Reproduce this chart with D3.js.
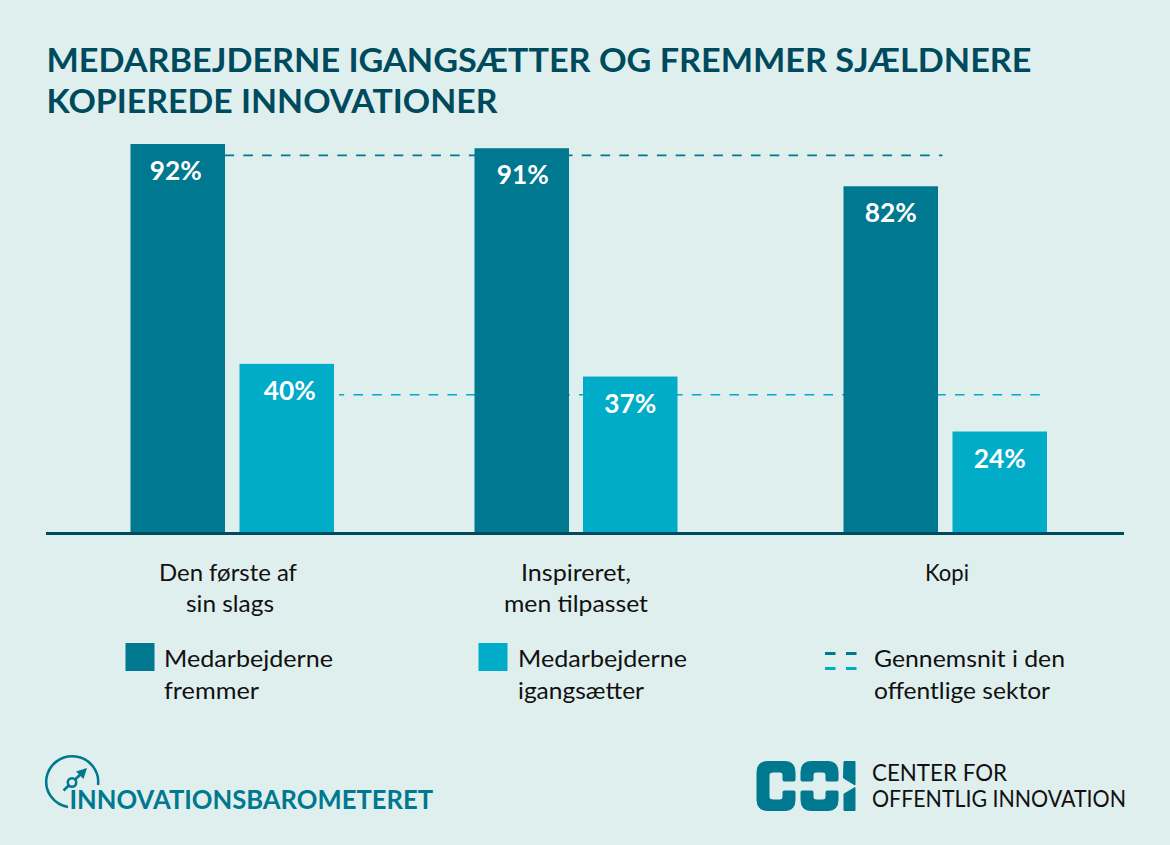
<!DOCTYPE html>
<html><head><meta charset="utf-8">
<script src="https://cdnjs.cloudflare.com/ajax/libs/d3/7.8.5/d3.min.js"></script>
<style>html,body{margin:0;padding:0;background:#dfefee}svg{display:block}text{font-family:Lato,"Open Sans",sans-serif}</style>
</head><body><svg id="c" width="1170" height="845"></svg>
<script>
const titleLines=["MEDARBEJDERNE IGANGSÆTTER OG FREMMER SJÆLDNERE","KOPIEREDE INNOVATIONER"];
const categories=["Den første af|sin slags","Inspireret,|men tilpasset","Kopi"];
const fremmer=[92,91,82];
const igangsaetter=[40,37,24];
const avgFremmer=89.3;
const avgIgangsaetter=32.7;
const legendItems=["Medarbejderne|fremmer","Medarbejderne|igangsætter","Gennemsnit i den|offentlige sektor"];

const dark="#00788f",light="#00acc8",navy="#004a5e",ink="#111",bg="#dfefee";
const svg=d3.select("#c");
svg.append("rect").attr("width",1170).attr("height",845).attr("fill",bg);
const y=d3.scaleLinear().domain([0,92]).range([533,144]);
const groupX=d3.scaleOrdinal().domain(categories).range([130.5,474.5,843.5]);
const barW=94.5, step=[109,108.5,109];
const labelShift=[[-2,3],[2,0],[0,0]];

function fit(sel,len){sel.attr("textLength",len).attr("lengthAdjust","spacingAndGlyphs");return sel;}

titleLines.forEach((t,i)=>fit(svg.append("text").attr("x",46.5).attr("y",[71.5,113][i]).attr("font-size",32).attr("font-weight",700).attr("fill",navy).text(t),[985,451][i]));

svg.append("line").attr("x1",224.5).attr("x2",942.5).attr("y1",y(avgFremmer)).attr("y2",y(avgFremmer)).attr("stroke",dark).attr("stroke-width",1.6).attr("stroke-dasharray","9.6 9.2");
svg.append("line").attr("x1",339).attr("x2",1040).attr("y1",y(avgIgangsaetter)).attr("y2",y(avgIgangsaetter)).attr("stroke",light).attr("stroke-width",1.6).attr("stroke-dasharray","9.6 9.2").attr("stroke-dashoffset",4.4);

const g=svg.append("g");
categories.forEach((c,i)=>{
  const x0=groupX(c);
  [[fremmer[i],dark,0],[igangsaetter[i],light,step[i]]].forEach(([v,col,dx],s)=>{
    g.append("rect").attr("x",x0+dx).attr("y",y(v)).attr("width",barW).attr("height",y(0)-y(v)).attr("fill",col);
    fit(g.append("text").attr("x",x0+dx+barW/2+labelShift[i][s]-(i===1&&s===0?1:0)).attr("y",y(v)+36).attr("text-anchor","middle")
      .attr("font-size",26).attr("font-weight",700).attr("fill","#fff").text(v+"%"),52);
  });
  const w=[[138,88],[110,144],[44]][i];
  const cx=[[228,230],[576,576],[947]][i];
  c.split("|").forEach((l,k)=>fit(svg.append("text").attr("x",cx[k]).attr("y",581+k*31).attr("text-anchor","middle").attr("font-size",23).attr("fill",ink).text(l),w[k]));
});
svg.append("line").attr("x1",46).attr("x2",1124).attr("y1",y(0)+.5).attr("y2",y(0)+.5).attr("stroke",navy).attr("stroke-width",3);

const lx=[164,518,874];
const lw=[[169,95],[169,126],[191,176]];
legendItems.forEach((t,i)=>t.split("|").forEach((l,k)=>fit(svg.append("text").attr("x",lx[i]).attr("y",667+k*32).attr("font-size",23).attr("fill",ink).text(l),lw[i][k])));
svg.append("rect").attr("x",125.5).attr("y",643).attr("width",29).attr("height",28).attr("fill",dark);
svg.append("rect").attr("x",478.5).attr("y",643).attr("width",29).attr("height",28).attr("fill",light);
[825,846].forEach(x=>{
  svg.append("rect").attr("x",x).attr("y",652).attr("width",10.5).attr("height",3).attr("fill",dark);
  svg.append("rect").attr("x",x).attr("y",667).attr("width",10.5).attr("height",3).attr("fill",light);
});

const logo=svg.append("g");
logo.append("path").attr("d","M 68 807 A 26 25.5 0 1 1 98 785").attr("fill","none").attr("stroke",dark).attr("stroke-width",2.6);
logo.append("line").attr("x1",63.5).attr("y1",790.5).attr("x2",83).attr("y2",772).attr("stroke",dark).attr("stroke-width",2.6);
logo.append("path").attr("d","M 87 768 L 76 771.5 L 83.5 779 Z").attr("fill",dark);
logo.append("circle").attr("cx",72).attr("cy",782.5).attr("r",4.2).attr("fill",bg).attr("stroke",dark).attr("stroke-width",2.6);
fit(svg.append("text").attr("x",69.5).attr("y",808.5).attr("font-size",27).attr("font-weight",700).attr("fill",dark).text("INNOVATIONSBAROMETERET"),363.5);

const coi=svg.append("g").attr("fill",dark).attr("stroke",dark).attr("stroke-width",1).attr("stroke-linejoin","round");
coi.append("path").attr("d","M 768 761.5 H 785 Q 795 761.5 795 772 V 780 Q 795 781 794 781 H 784 Q 783 781 783 780 V 775 Q 783 772 780 772 H 773 Q 769 772 769 775 V 797 Q 769 800 773 800 H 780 Q 783 800 783 797 V 792 Q 783 791 784 791 H 794 Q 795 791 795 792 V 800 Q 795 810.5 785 810.5 H 768 Q 757 810.5 757 800 V 772 Q 757 761.5 768 761.5 Z");
coi.append("path").attr("d","M 811 761.5 H 828 Q 838 761.5 838 772 V 780 Q 838 781 837 781 H 827 Q 826 781 826 780 V 775 Q 826 772 823 772 H 816 Q 813 772 813 775 V 780 Q 813 781 812 781 H 802 Q 801 781 801 780 V 772 Q 801 761.5 811 761.5 Z");
coi.append("path").attr("d","M 802 791 H 812 Q 813 791 813 792 V 797 Q 813 800 816 800 H 823 Q 826 800 826 797 V 792 Q 826 791 827 791 H 837 Q 838 791 838 792 V 800 Q 838 810.5 828 810.5 H 811 Q 801 810.5 801 800 V 792 Q 801 791 802 791 Z");
coi.append("path").attr("d","M 844 761.5 H 855 V 785 L 843.5 778 Z");
coi.append("path").attr("d","M 855 787.5 V 810.5 H 844 V 794 Z");
fit(svg.append("text").attr("x",872).attr("y",780.5).attr("font-size",22.5).attr("fill","#111").attr("font-family","Roboto").text("CENTER FOR"),135);
fit(svg.append("text").attr("x",872).attr("y",806.5).attr("font-size",22.5).attr("fill","#111").attr("font-family","Roboto").text("OFFENTLIG INNOVATION"),254);
</script></body></html>
